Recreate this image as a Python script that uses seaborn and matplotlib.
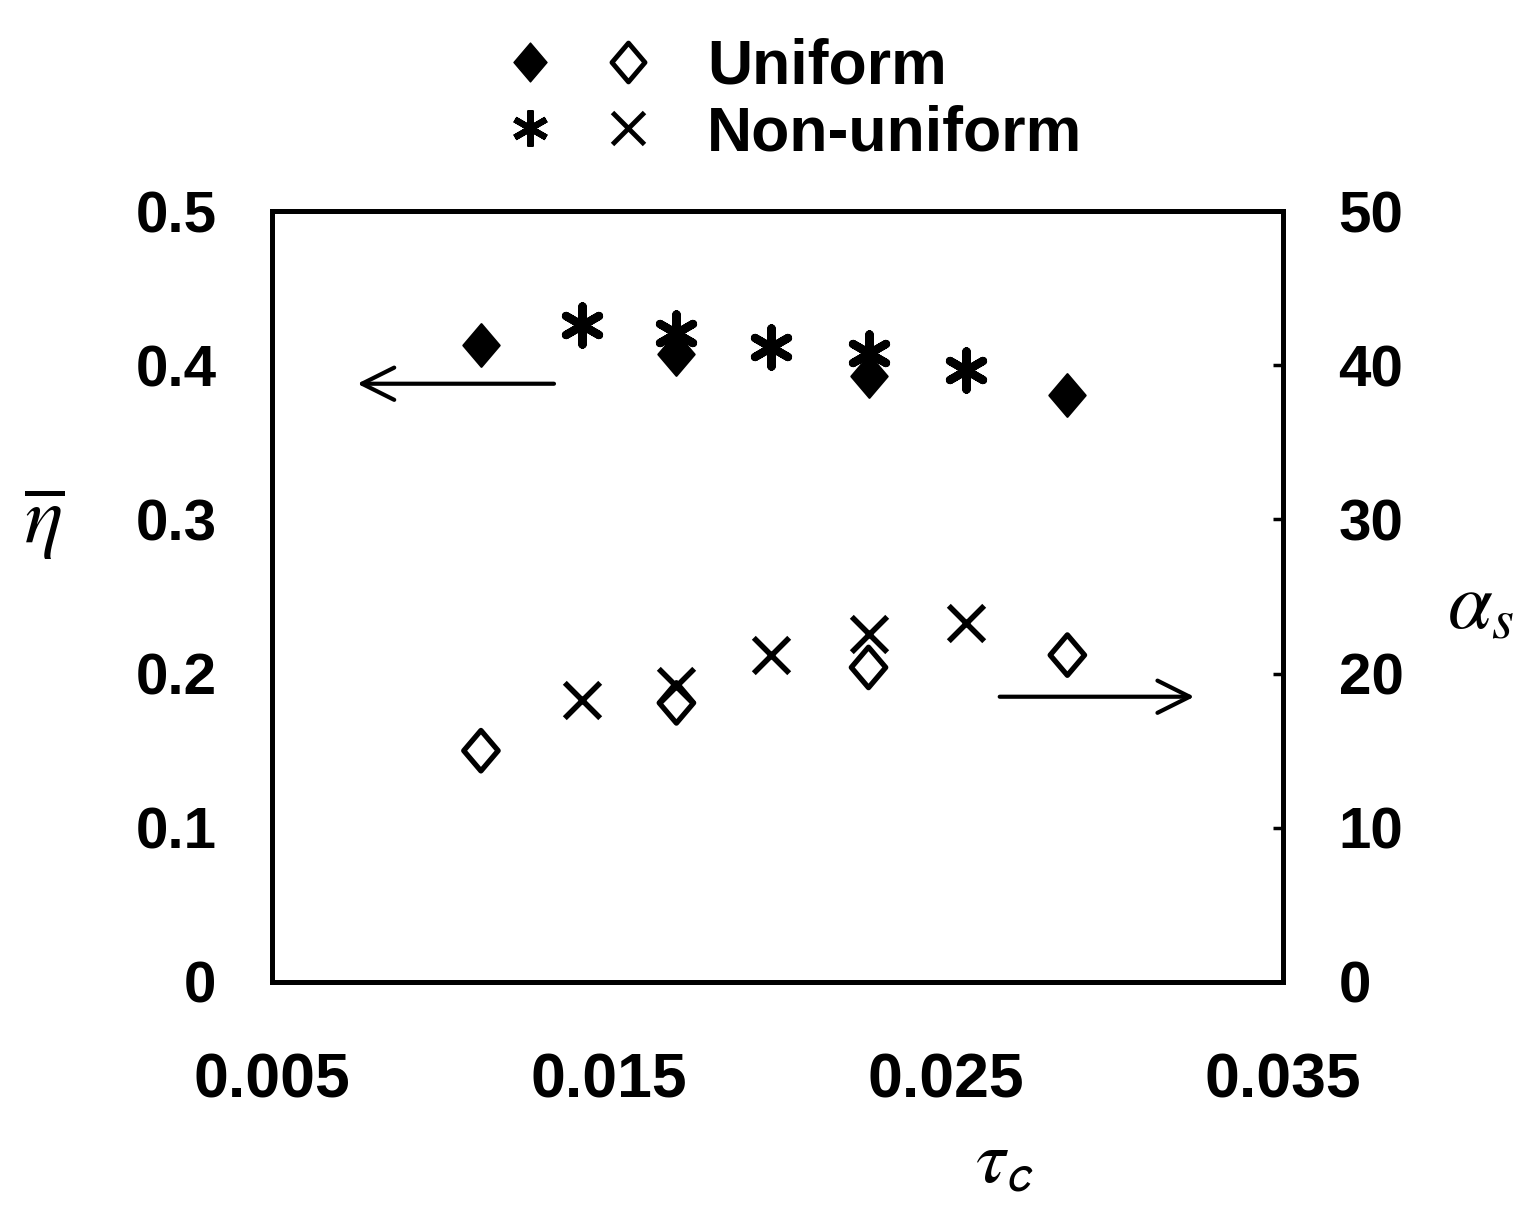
import numpy as np
import pandas as pd
import seaborn as sns
import matplotlib.pyplot as plt
from matplotlib.path import Path
from matplotlib.lines import Line2D
from matplotlib.legend_handler import HandlerTuple

# DATA
tau_u = [0.0112, 0.0170, 0.0227, 0.0286]
eta_u = [0.413, 0.407, 0.393, 0.381]
alpha_u = [15.0, 18.1, 20.4, 21.2]

tau_n = [0.0142, 0.0170, 0.0198, 0.0227, 0.0256]
eta_n = [0.426, 0.421, 0.412, 0.408, 0.397]
alpha_n = [18.3, 19.2, 21.2, 22.6, 23.3]

x_ticks = [0.005, 0.015, 0.025, 0.035]
x_tick_labels = ['0.005', '0.015', '0.025', '0.035']
eta_ticks = [0, 0.1, 0.2, 0.3, 0.4, 0.5]
eta_tick_labels = ['0', '0.1', '0.2', '0.3', '0.4', '0.5']
alpha_ticks = [0, 10, 20, 30, 40, 50]

df_u = pd.DataFrame({'tau': tau_u, 'eta': eta_u, 'alpha': alpha_u})
df_n = pd.DataFrame({'tau': tau_n, 'eta': eta_n, 'alpha': alpha_n})

sns.set_style('white')
plt.rcParams['font.family'] = ['Liberation Sans', 'DejaVu Sans']
plt.rcParams['mathtext.fontset'] = 'stix'
plt.rcParams['text.color'] = 'black'
plt.rcParams['xtick.color'] = 'black'
plt.rcParams['ytick.color'] = 'black'
plt.rcParams['axes.labelcolor'] = 'black'

diamond = Path([(-0.85, 0), (0, 1), (0.85, 0), (0, -1), (-0.85, 0)],
               [Path.MOVETO, Path.LINETO, Path.LINETO, Path.LINETO, Path.CLOSEPOLY])

fig = plt.figure(figsize=(15.28, 12.27), dpi=100)
ax = fig.add_axes([0.178, 0.1997, 0.6617, 0.6283])
ax2 = ax.twinx()

# efficiency (left axis)
sns.scatterplot(data=df_u, x='tau', y='eta', marker=diamond, s=950, color='black',
                edgecolor='black', linewidth=1.5, ax=ax, zorder=3)
sns.scatterplot(data=df_n, x='tau', y='eta', marker=(6, 2, 0), s=750, color='black',
                linewidth=6, ax=ax, zorder=4)
# angle (right axis)
sns.scatterplot(data=df_u, x='tau', y='alpha', marker=diamond, s=850, facecolor='none',
                edgecolor='black', linewidth=3.8, ax=ax2, zorder=3)
sns.scatterplot(data=df_n, x='tau', y='alpha', marker='x', s=650, color='black',
                linewidth=4, ax=ax2, zorder=4)

ax.set_xlim(0.005, 0.035)
ax.set_ylim(0, 0.5)
ax2.set_ylim(0, 50)

ax.set_xticks(x_ticks)
ax.set_xticklabels(x_tick_labels, fontsize=45, fontweight='bold')
ax.set_yticks(eta_ticks)
ax.set_yticklabels(eta_tick_labels, fontsize=42, fontweight='bold')
ax2.set_yticks(alpha_ticks)
ax2.set_yticklabels([str(t) for t in alpha_ticks], fontsize=42, fontweight='bold')

ax.tick_params(axis='x', length=0, pad=50)
ax.tick_params(axis='y', length=0, pad=40)
ax2.tick_params(axis='y', direction='in', length=7, width=2.5, pad=40, right=True)

for a in (ax, ax2):
    for sp in a.spines.values():
        sp.set_linewidth(3.5)
        sp.set_color('black')

ax.set_xlabel(r'$\tau_{\mathsf{c}}$', fontsize=54)
ax.xaxis.set_label_coords(0.725, -0.19)
ax.set_ylabel(r'$\overline{\eta}$', fontsize=58, rotation=0)
ax.yaxis.set_label_coords(-0.225, 0.545)
ax2.set_ylabel(r'$\alpha_s$', fontsize=58, rotation=0)
ax2.yaxis.set_label_coords(1.195, 0.535)

# direction arrows
ax.annotate('', xy=(0.00745, 0.388), xytext=(0.01345, 0.388),
            arrowprops=dict(arrowstyle='->', lw=3, mutation_scale=58, color='black'))
ax2.annotate('', xy=(0.03245, 18.5), xytext=(0.02651, 18.5),
             arrowprops=dict(arrowstyle='->', lw=3, mutation_scale=58, color='black'))

# legend at top
h_fd = Line2D([], [], ls='none', marker=diamond, ms=28, mfc='black', mec='black', mew=1)
h_od = Line2D([], [], ls='none', marker=diamond, ms=28, mfc='none', mec='black', mew=3.5)
h_as = Line2D([], [], ls='none', marker=(6, 2, 0), ms=26, mec='black', mew=4.5)
h_x = Line2D([], [], ls='none', marker='x', ms=23, mec='black', mew=3.5)
fig.legend([(h_fd, h_od), (h_as, h_x)], ['Uniform', 'Non-uniform'],
           handler_map={tuple: HandlerTuple(ndivide=None, pad=0.95)},
           loc='upper left', bbox_to_anchor=(0.297, 1.015), frameon=False,
           handlelength=2.2, handletextpad=0.95, labelspacing=0.12,
           prop={'size': 45, 'weight': 'bold'})

fig.savefig('out.png', dpi=100, facecolor='white')
